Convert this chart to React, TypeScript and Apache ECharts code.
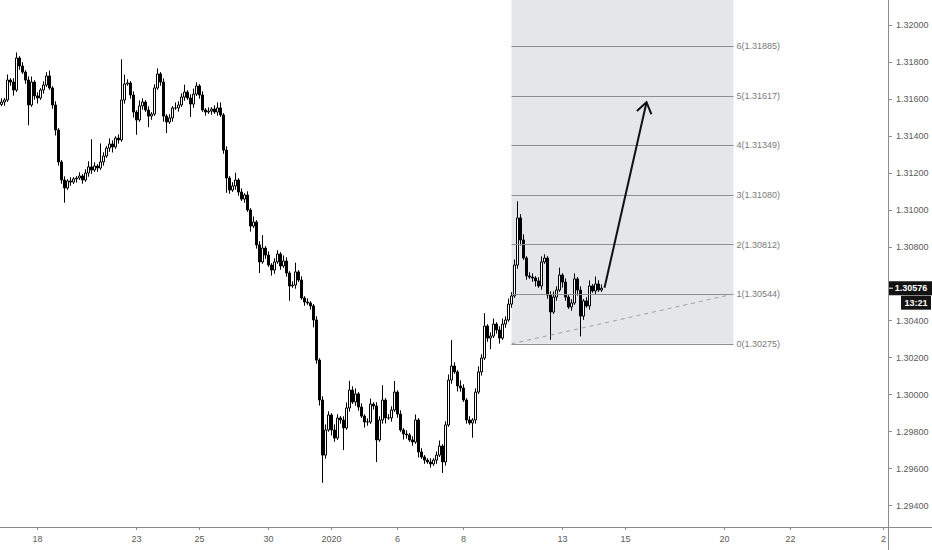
import { useEffect, useRef } from 'react';
import * as echarts from 'echarts';

// ---- data ----
const firstOpen = 1.3157;
const closes = [
  1.31583, 1.31594, 1.31702, 1.31691, 1.31648, 1.31821, 1.31778, 1.31745, 1.31702, 1.31567,
  1.31691, 1.31616, 1.31605, 1.31648, 1.31675, 1.31724, 1.31659, 1.31567, 1.31432, 1.31259,
  1.31161, 1.31118, 1.31156, 1.3115, 1.31167, 1.31172, 1.31183, 1.31161, 1.31199, 1.31232,
  1.31215, 1.31237, 1.31226, 1.31259, 1.31291, 1.31334, 1.31356, 1.3134, 1.31388, 1.31378,
  1.31594, 1.31681, 1.31686, 1.31621, 1.31529, 1.31486, 1.31562, 1.31583, 1.3154, 1.31507,
  1.31518, 1.31659, 1.31735, 1.31691, 1.31507, 1.31475, 1.31497, 1.31551, 1.31551, 1.31567,
  1.3161, 1.31637, 1.31605, 1.31572, 1.31626, 1.3167, 1.31621, 1.3154, 1.31529, 1.31534,
  1.31545, 1.31529, 1.31551, 1.31513, 1.31323, 1.31172, 1.31107, 1.31129, 1.31161, 1.31096,
  1.31058, 1.3108, 1.30999, 1.30912, 1.30934, 1.3081, 1.30718, 1.30793, 1.30755, 1.30701,
  1.30674, 1.30718, 1.30761, 1.30696, 1.30723, 1.30658, 1.30588, 1.30593, 1.30664, 1.3062,
  1.30523, 1.30501, 1.30496, 1.3048, 1.30404, 1.30187, 1.29971, 1.29673, 1.29809, 1.2989,
  1.29809, 1.29765, 1.29874, 1.29863, 1.2982, 1.29928, 1.30025, 1.2996, 1.30004, 1.29933,
  1.29884, 1.29852, 1.29852, 1.29949, 1.29939, 1.29755, 1.29863, 1.29971, 1.29874, 1.29874,
  1.29917, 1.30014, 1.29895, 1.29809, 1.29787, 1.29782, 1.29755, 1.29744, 1.29863, 1.2969,
  1.29663, 1.29646, 1.29636, 1.29625, 1.29646, 1.29673, 1.29722, 1.29636, 1.29836, 1.30079,
  1.30155, 1.30123, 1.30047, 1.30036, 1.29971, 1.29863, 1.29847, 1.29863, 1.30014, 1.30123,
  1.30198, 1.30371, 1.30306, 1.30317, 1.30382, 1.3035, 1.30306, 1.30382, 1.30404, 1.3049,
  1.30534, 1.30701, 1.30956, 1.30837, 1.30739, 1.30642, 1.30636, 1.30631, 1.30615, 1.30588,
  1.30718, 1.30739, 1.30539, 1.30447, 1.30528, 1.30566, 1.30647, 1.30609, 1.30528, 1.30474,
  1.30496, 1.30626, 1.30566, 1.30425, 1.30507, 1.3048, 1.30588, 1.30561, 1.30599, 1.30566,
  1.30576,
];
// upper / lower wick lengths in pips
const wickUp = [
  2, 1, 3, 1, 2, 3, 1, 2, 1, 2,
  3, 1, 2, 1, 2, 2, 3, 1, 2, 1,
  1, 2, 1, 2, 1, 1, 2, 1, 2, 3,
  15, 2, 1, 10, 2, 1, 3, 2, 1, 2,
  22, 5, 2, 1, 2, 1, 3, 2, 1, 2,
  1, 2, 3, 1, 2, 1, 2, 1, 3, 2,
  2, 4, 1, 2, 3, 2, 1, 2, 1, 2,
  1, 2, 3, 3, 1, 2, 1, 2, 4, 1,
  2, 1, 2, 1, 3, 1, 2, 7, 1, 2,
  1, 2, 2, 1, 3, 2, 1, 2, 5, 1,
  2, 1, 2, 1, 1, 2, 1, 2, 3, 2,
  1, 3, 2, 1, 2, 3, 5, 2, 3, 1,
  2, 1, 2, 3, 1, 2, 2, 8, 1, 2,
  2, 6, 1, 2, 1, 2, 1, 2, 3, 1,
  2, 1, 1, 2, 1, 2, 3, 1, 2, 3,
  14, 2, 1, 3, 2, 1, 2, 1, 2, 3,
  2, 7, 1, 2, 3, 1, 2, 3, 2, 3,
  2, 3, 9, 2, 3, 1, 2, 2, 1, 2,
  3, 2, 1, 2, 3, 2, 4, 1, 2, 1,
  2, 3, 1, 2, 1, 2, 3, 1, 4, 2,
  2,
];
const wickDown = [
  1, 2, 1, 2, 3, 1, 2, 1, 2, 11,
  1, 2, 3, 1, 2, 1, 1, 2, 3, 2,
  2, 8, 1, 2, 1, 2, 1, 2, 1, 2,
  2, 1, 2, 1, 2, 1, 2, 3, 1, 2,
  1, 2, 1, 2, 3, 8, 1, 2, 1, 6,
  2, 1, 1, 2, 3, 6, 1, 2, 1, 2,
  1, 2, 1, 7, 2, 1, 2, 1, 2, 1,
  2, 1, 2, 1, 2, 8, 2, 1, 2, 2,
  1, 2, 1, 3, 1, 2, 6, 1, 2, 1,
  3, 2, 1, 2, 1, 2, 8, 1, 2, 1,
  1, 2, 1, 2, 4, 2, 3, 15, 2, 1,
  3, 2, 1, 2, 12, 1, 2, 1, 2, 2,
  1, 3, 2, 1, 2, 12, 1, 2, 3, 1,
  2, 1, 2, 1, 3, 2, 1, 2, 1, 3,
  1, 2, 1, 2, 1, 2, 1, 6, 2, 1,
  2, 1, 3, 2, 1, 2, 1, 8, 2, 1,
  2, 1, 2, 6, 1, 2, 3, 1, 2, 1,
  2, 1, 2, 3, 1, 2, 1, 2, 3, 1,
  2, 1, 2, 15, 1, 2, 1, 3, 2, 1,
  2, 1, 3, 11, 2, 1, 2, 1, 2, 1,
  1,
];
const pip = 0.0001;
const slotCount = 296; // time slots incl. empty future space
const tickLabels: [number, string][] = [
  [12, '18'], [45, '23'], [66, '25'], [89, '30'], [110, '2020'], [132, '6'],
  [154, '8'], [187, '13'], [208, '15'], [241, '20'], [263, '22'], [294, '2'],
];
const fibLevels = [1.30275, 1.30544, 1.30812, 1.3108, 1.31349, 1.31617, 1.31885, 1.32154];
const fibStart = 170;
const fibEnd = 244;
const arrowFrom: [number, number] = [201, 1.30578];
const arrowTo: [number, number] = [215, 1.31582];
const lastPrice = 1.30576;
const countdown = '13:21';
const yMin = 1.29284;
const yMax = 1.32135;

const FONT = '"Liberation Sans", Arial, sans-serif';
const AXIS = '#8c8c8c';

export default function App() {
  const ref = useRef<HTMLDivElement>(null);
  useEffect(() => {
    if (!ref.current) return;
    const chart = echarts.init(ref.current, undefined, { renderer: 'svg' });
    const cats = Array.from({ length: slotCount }, (_, i) => String(i));
    const labelMap = new Map<number, string>(tickLabels);
    const candles = closes.map((c, i) => {
      const o = i === 0 ? firstOpen : closes[i - 1];
      const h = Math.max(o, c) + wickUp[i] * pip;
      const l = Math.min(o, c) - wickDown[i] * pip;
      return [o, c, l, h];
    });
    const fibLines = fibLevels.map((lv, i) => {
      const name = `${i}(${lv.toFixed(5)})`;
      return [
        { name, coord: [fibStart, lv] },
        { name, coord: [fibEnd, lv] },
      ];
    });
    const trend = [
      {
        name: 'trend',
        coord: [fibStart, fibLevels[0]],
        lineStyle: { type: [4, 4], color: '#a0a0a0', width: 1 },
        label: { show: false },
      },
      {
        name: 'trend',
        coord: [fibEnd, fibLevels[1]],
        lineStyle: { type: [4, 4], color: '#a0a0a0', width: 1 },
        label: { show: false },
      },
    ];
    // axis labels at multiples of 0.002; the one hidden under the last-price tag is skipped
    const isTick = (v: number) =>
      Math.abs(v / 0.002 - Math.round(v / 0.002)) < 1e-6 && Math.abs(v - lastPrice) > 0.0005;

    chart.setOption({
      animation: false,
      backgroundColor: '#ffffff',
      grid: { left: 0, right: 44, top: 0, bottom: 23, containLabel: false },
      xAxis: {
        type: 'category',
        data: cats,
        boundaryGap: true,
        axisLine: { show: true, lineStyle: { color: AXIS, width: 1 } },
        axisTick: {
          show: true,
          alignWithLabel: true,
          interval: (i: number) => labelMap.has(i),
          length: 3,
          lineStyle: { color: AXIS },
        },
        axisLabel: {
          interval: (i: number) => labelMap.has(i),
          formatter: (_v: string, i: number) => labelMap.get(i) ?? '',
          color: '#5a5a5a',
          fontSize: 9,
          fontFamily: FONT,
          margin: 7,
        },
        splitLine: { show: false },
      },
      yAxis: {
        type: 'value',
        position: 'right',
        min: yMin,
        max: yMax,
        splitNumber: 14,
        axisLine: { show: true, lineStyle: { color: AXIS, width: 1 } },
        axisTick: { show: true, length: 4, lineStyle: { color: AXIS } },
        axisLabel: {
          color: '#5a5a5a',
          fontSize: 9,
          fontFamily: FONT,
          margin: 8,
          showMinLabel: false,
          showMaxLabel: false,
          formatter: (v: number) => (isTick(v) ? v.toFixed(5) : ''),
        },
        splitLine: { show: false },
      },
      series: [
        {
          type: 'candlestick',
          data: candles,
          barWidth: 2.6,
          itemStyle: {
            color: '#ffffff',
            color0: '#000000',
            borderColor: '#000000',
            borderColor0: '#000000',
            borderWidth: 1,
          },
          markArea: {
            silent: true,
            itemStyle: { color: '#e5e6e9' },
            data: [[{ coord: [fibStart, fibLevels[0]] }, { coord: [fibEnd, fibLevels[7]] }]],
          },
          markLine: {
            silent: true,
            symbol: ['none', 'none'],
            lineStyle: { color: '#8f8f8f', width: 1, type: 'solid' },
            label: {
              show: true,
              position: 'end',
              formatter: '{b}',
              color: '#7a7a7a',
              fontSize: 9,
              fontFamily: FONT,
              distance: 3,
            },
            emphasis: { disabled: true },
            data: [...fibLines, trend],
          },
        },
      ],
    });

    const p0 = chart.convertToPixel({ seriesIndex: 0 }, arrowFrom) as number[];
    const p1 = chart.convertToPixel({ seriesIndex: 0 }, arrowTo) as number[];
    const dx = p0[0] - p1[0];
    const dy = p0[1] - p1[1];
    const len = Math.hypot(dx, dy);
    const rx = dx / len;
    const ry = dy / len;
    const ang = (35 * Math.PI) / 180;
    const wl = 13;
    const w1 = [p1[0] + wl * (rx * Math.cos(ang) - ry * Math.sin(ang)), p1[1] + wl * (rx * Math.sin(ang) + ry * Math.cos(ang))];
    const w2 = [p1[0] + wl * (rx * Math.cos(-ang) - ry * Math.sin(-ang)), p1[1] + wl * (rx * Math.sin(-ang) + ry * Math.cos(-ang))];
    const py = chart.convertToPixel({ yAxisIndex: 0 }, lastPrice) as number;
    const gridRight = 888;
    const gridBottom = 527;

    chart.setOption({
      graphic: [
        {
          type: 'line',
          shape: { x1: p0[0], y1: p0[1], x2: p1[0], y2: p1[1] },
          style: { stroke: '#111', lineWidth: 2 },
          z: 100,
        },
        {
          type: 'polyline',
          shape: { points: [w1, [p1[0], p1[1]], w2] },
          style: { stroke: '#111', lineWidth: 2, fill: 'none' },
          z: 100,
        },
        {
          type: 'line',
          shape: { x1: gridRight, y1: gridBottom + 0.5, x2: 932, y2: gridBottom + 0.5 },
          style: { stroke: AXIS, lineWidth: 1 },
        },
        {
          type: 'line',
          shape: { x1: gridRight + 0.5, y1: gridBottom, x2: gridRight + 0.5, y2: 550 },
          style: { stroke: AXIS, lineWidth: 1 },
        },
        {
          type: 'rect',
          shape: { x: gridRight + 1, y: py - 7, width: 932 - gridRight, height: 14 },
          style: { fill: '#131313' },
          z: 100,
        },
        {
          type: 'line',
          shape: { x1: gridRight + 1, y1: py, x2: gridRight + 5, y2: py },
          style: { stroke: '#ffffff', lineWidth: 1 },
          z: 101,
        },
        {
          type: 'text',
          x: 911,
          y: py,
          style: {
            text: lastPrice.toFixed(5),
            fill: '#ffffff',
            font: `bold 9px ${FONT}`,
            align: 'center',
            verticalAlign: 'middle',
            textAlign: 'center',
            textVerticalAlign: 'middle',
          },
          z: 102,
        },
        {
          type: 'rect',
          shape: { x: 901, y: py + 7.5, width: 30, height: 14 },
          style: { fill: '#131313' },
          z: 100,
        },
        {
          type: 'text',
          x: 916,
          y: py + 15,
          style: {
            text: countdown,
            fill: '#ffffff',
            font: `bold 9px ${FONT}`,
            align: 'center',
            verticalAlign: 'middle',
            textAlign: 'center',
            textVerticalAlign: 'middle',
          },
          z: 102,
        },
      ],
    });

    return () => chart.dispose();
  }, []);

  return (
    <div
      ref={ref}
      style={{ position: 'fixed', left: 0, top: 0, width: 932, height: 550, background: '#fff' }}
    />
  );
}
